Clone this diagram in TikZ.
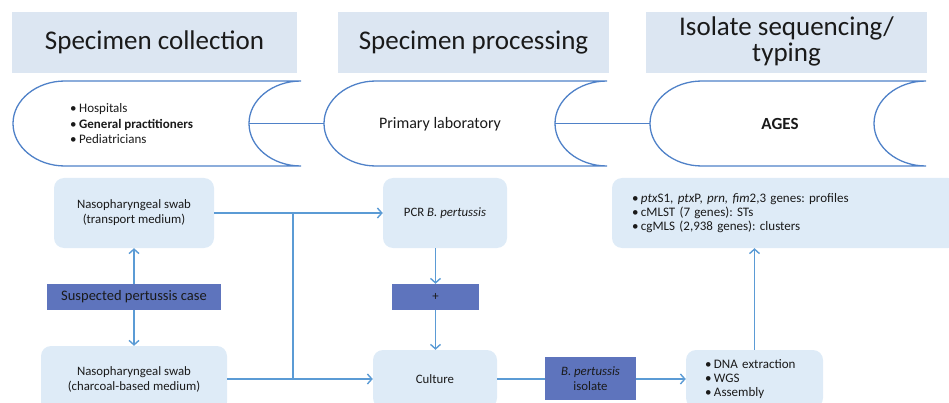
\documentclass[tikz,border=0pt]{standalone}
\usepackage{fontspec}
\setmainfont{Carlito}
\usetikzlibrary{arrows.meta}
\frenchspacing
\definecolor{hdrfill}{HTML}{DCE6F2}
\definecolor{boxfill}{HTML}{DEEBF7}
\definecolor{darkfill}{HTML}{5E74BD}
\definecolor{linecol}{HTML}{5B9BD5}
\definecolor{bannercol}{HTML}{4F81C8}
\definecolor{txt}{HTML}{1A1A1A}
\tikzset{
  header/.style={fill=hdrfill, draw=none, inner sep=0pt, text=txt,
    font=\fontsize{27}{26}\selectfont, align=center},
  lightbox/.style={fill=boxfill, draw=none, rounded corners=10pt, inner sep=0pt,
    text=txt, font=\fontsize{12.8}{15}\selectfont, align=center},
  darkbox/.style={fill=darkfill, draw=none, inner sep=0pt, text=txt,
    font=\fontsize{12.8}{14.5}\selectfont, align=center},
  banner/.style={draw=bannercol, line width=1.3pt},
  conn/.style={draw=linecol, line width=1.4pt},
  arr/.style={conn, -{Straight Barb[length=4.5pt,width=10pt]}},
  plain/.style={text=txt, inner sep=0pt},
}
\begin{document}
\begin{tikzpicture}[x=1pt,y=-1pt]
\path[use as bounding box] (0,0) rectangle (949,403);
\clip (0,0) rectangle (949,403);

% headers
\node[header, minimum width=285pt, minimum height=61pt] (h1) at (154.5,42.5) {Specimen collection};
\node[header, minimum width=271pt, minimum height=61pt] (h2) at (473.5,42.5) {Specimen processing};
\node[header, minimum width=281pt, minimum height=61pt, font=\fontsize{27}{24}\selectfont] (h3) at (786.5,42.5)
  {\raisebox{-4pt}{\begin{tabular}{@{}c@{}}Isolate sequencing/\\typing\end{tabular}}};

% banners
\draw[banner] (301,81) -- (65,81) .. controls (36.28,81) and (13,100.03) .. (13,123.5)
  .. controls (13,146.97) and (36.28,166) .. (65,166) -- (301,166)
  .. controls (272.28,166) and (249,146.97) .. (249,123.5)
  .. controls (249,100.03) and (272.28,81) .. (301,81);
\draw[banner] (607,81) -- (376,81) .. controls (347.28,81) and (324,100.03) .. (324,123.5)
  .. controls (324,146.97) and (347.28,166) .. (376,166) -- (607,166)
  .. controls (578.28,166) and (555,146.97) .. (555,123.5)
  .. controls (555,100.03) and (578.28,81) .. (607,81);
\draw[banner] (926,81) -- (702,81) .. controls (673.28,81) and (650,100.03) .. (650,123.5)
  .. controls (650,146.97) and (673.28,166) .. (702,166) -- (926,166)
  .. controls (897.28,166) and (874,146.97) .. (874,123.5)
  .. controls (874,100.03) and (897.28,81) .. (926,81);
\coordinate (b1r) at (249,123.5);
\coordinate (b2l) at (324,123.5);
\coordinate (b2r) at (555,123.5);
\coordinate (b3l) at (650,123.5);
\draw[banner] (b1r) -- (b2l);
\draw[banner] (b2r) -- (b3l);

\node[plain, anchor=west, align=left, font=\fontsize{13}{15.5}\selectfont] (hosp) at (70,124)
  {\textbullet\hspace{2.5pt}Hospitals\\\textbullet\hspace{2.5pt}\textbf{General practitioners}\\\textbullet\hspace{2.5pt}Pediatricians};
\node[plain, font=\fontsize{16}{18}\selectfont] (prim) at (440,124) {Primary laboratory};
\node[plain, font=\bfseries\fontsize{17}{19}\selectfont] (ages) at (780,124) {AGES};

% light boxes
\node[lightbox, minimum width=160pt, minimum height=70pt] (T) at (134,213) {Nasopharyngeal swab\\(transport medium)};
\node[lightbox, minimum width=186pt, minimum height=66pt] (C) at (134,379) {Nasopharyngeal swab\\(charcoal-based medium)};
\node[lightbox, minimum width=124pt, minimum height=70pt] (P) at (445,213) {PCR \textit{B. pertussis}};
\node[lightbox, minimum width=124pt, minimum height=58pt] (U) at (435,379) {Culture};
\node[lightbox, text width=99pt, inner xsep=19pt, minimum height=58pt, align=left,
  font=\fontsize{13}{14}\selectfont] (D) at (754.5,379)
  {\textbullet\hspace{2.5pt}DNA extraction\\\textbullet\hspace{2.5pt}WGS\\\textbullet\hspace{2.5pt}Assembly};
\node[lightbox, text width=306pt, inner xsep=20pt, minimum height=70pt, align=left,
  font=\fontsize{13}{14.2}\selectfont] (R) at (785,213)
  {\textbullet\hspace{2.5pt}\textit{ptx}S1, \textit{ptx}P, \textit{prn, fim}2,3 genes: profiles\\
   \textbullet\hspace{2.5pt}cMLST (7 genes): STs\\
   \textbullet\hspace{2.5pt}cgMLS (2,938 genes): clusters};

% dark boxes
\node[darkbox, minimum width=174pt, minimum height=26pt, font=\fontsize{14.5}{16}\selectfont] (S) at (134,297) {Suspected pertussis case};
\node[darkbox, minimum width=87pt, minimum height=26pt] (plus) at (435.5,297) {+};
\node[darkbox, minimum width=91pt, minimum height=43pt] (iso) at (590.5,378.5) {\textit{B. pertussis}\\isolate};

% connectors
\coordinate (J1) at (293,213);
\coordinate (J2) at (293,379);
\draw[arr] (S.north) -- (T.south);
\draw[arr] (S.south) -- (C.north);
\draw[arr] (T.east) -- (P.west);
\draw[arr] (C.east) -- (U.west);
\draw[conn] (J1) -- (J2);
\draw[arr] (P.south -| plus.north) -- (plus.north);
\draw[arr] (plus.south) -- (U.north -| plus.south);
\draw[conn] (U.east) -- (iso.west |- U.east);
\draw[arr] (iso.east |- U.east) -- (D.west);
\draw[arr] (D.north) -- (D.north |- R.south);
\end{tikzpicture}
\end{document}
